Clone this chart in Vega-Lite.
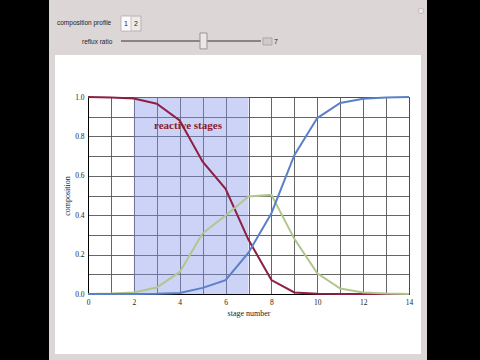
{
  "$schema": "https://vega.github.io/schema/vega-lite/v6.json",
  "width": 321,
  "height": 197,
  "autosize": {"type": "none"},
  "padding": {"left": 88, "top": 97, "right": 71, "bottom": 66},
  "background": "white",
  "config": {
    "view": {"stroke": "black", "strokeWidth": 1},
    "axis": {
      "labelFont": "Liberation Serif",
      "labelFontSize": 7.5,
      "labelColor": "#222",
      "titleFont": "Liberation Serif",
      "titleFontSize": 8,
      "titleFontWeight": "normal",
      "titleColor": "#222",
      "gridColor": "#555",
      "gridOpacity": 0.9,
      "gridWidth": 1,
      "domainColor": "black",
      "ticks": false,
      "labelPadding": 4,
      "labelOverlap": false,
      "labelFlush": false
    }
  },
  "datasets": {
    "profile": [
      {"stage": 0, "component": "A", "composition": 1.0},
      {"stage": 1, "component": "A", "composition": 0.998},
      {"stage": 2, "component": "A", "composition": 0.992},
      {"stage": 3, "component": "A", "composition": 0.966},
      {"stage": 4, "component": "A", "composition": 0.881},
      {"stage": 5, "component": "A", "composition": 0.672},
      {"stage": 6, "component": "A", "composition": 0.534},
      {"stage": 7, "component": "A", "composition": 0.275},
      {"stage": 8, "component": "A", "composition": 0.071},
      {"stage": 9, "component": "A", "composition": 0.008},
      {"stage": 10, "component": "A", "composition": 0.001},
      {"stage": 11, "component": "A", "composition": 0.0},
      {"stage": 12, "component": "A", "composition": 0.0},
      {"stage": 13, "component": "A", "composition": 0.0},
      {"stage": 14, "component": "A", "composition": 0.0},
      {"stage": 0, "component": "B", "composition": 0.0},
      {"stage": 1, "component": "B", "composition": 0.002},
      {"stage": 2, "component": "B", "composition": 0.008},
      {"stage": 3, "component": "B", "composition": 0.033},
      {"stage": 4, "component": "B", "composition": 0.112},
      {"stage": 5, "component": "B", "composition": 0.308},
      {"stage": 6, "component": "B", "composition": 0.398},
      {"stage": 7, "component": "B", "composition": 0.495},
      {"stage": 8, "component": "B", "composition": 0.503},
      {"stage": 9, "component": "B", "composition": 0.28},
      {"stage": 10, "component": "B", "composition": 0.105},
      {"stage": 11, "component": "B", "composition": 0.028},
      {"stage": 12, "component": "B", "composition": 0.008},
      {"stage": 13, "component": "B", "composition": 0.002},
      {"stage": 14, "component": "B", "composition": 0.0},
      {"stage": 0, "component": "C", "composition": 0.0},
      {"stage": 1, "component": "C", "composition": 0.0},
      {"stage": 2, "component": "C", "composition": 0.0},
      {"stage": 3, "component": "C", "composition": 0.001},
      {"stage": 4, "component": "C", "composition": 0.005},
      {"stage": 5, "component": "C", "composition": 0.031},
      {"stage": 6, "component": "C", "composition": 0.07},
      {"stage": 7, "component": "C", "composition": 0.21},
      {"stage": 8, "component": "C", "composition": 0.41},
      {"stage": 9, "component": "C", "composition": 0.705},
      {"stage": 10, "component": "C", "composition": 0.893},
      {"stage": 11, "component": "C", "composition": 0.97},
      {"stage": 12, "component": "C", "composition": 0.991},
      {"stage": 13, "component": "C", "composition": 0.998},
      {"stage": 14, "component": "C", "composition": 1.0}
    ],
    "region": [
      {"start": 2, "end": 7, "low": 0, "high": 1, "label": "reactive stages"}
    ]
  },
  "layer": [
    {
      "data": {"name": "region"},
      "mark": {"type": "rect", "fill": "#7f90ea", "opacity": 0.4},
      "encoding": {
        "x": {"field": "start", "type": "quantitative", "scale": {"domain": [0, 14], "nice": false, "zero": false},
          "axis": {"values": [0,1,2,3,4,5,6,7,8,9,10,11,12,13,14], "tickCount": 30, "labelExpr": "datum.value % 2 == 0 ? format(datum.value, 'd') : ''", "title": "stage number", "titlePadding": 4}},
        "x2": {"field": "end"},
        "y": {"field": "low", "type": "quantitative", "scale": {"domain": [0, 1], "nice": false, "zero": false},
          "axis": {"values": [0,0.1,0.2,0.3,0.4,0.5,0.6,0.7,0.8,0.9,1], "tickCount": 30, "labelExpr": "round(datum.value*10) % 2 == 0 ? format(datum.value, '.1f') : ''", "title": "composition", "titlePadding": 3}},
        "y2": {"field": "high"}
      }
    },
    {
      "data": {"name": "profile"},
      "mark": {"type": "line", "strokeWidth": 2},
      "encoding": {
        "x": {"field": "stage", "type": "quantitative",
          "axis": {"values": [0,1,2,3,4,5,6,7,8,9,10,11,12,13,14], "tickCount": 30, "labelExpr": "datum.value % 2 == 0 ? format(datum.value, 'd') : ''", "title": "stage number", "titlePadding": 4}},
        "y": {"field": "composition", "type": "quantitative",
          "axis": {"values": [0,0.1,0.2,0.3,0.4,0.5,0.6,0.7,0.8,0.9,1], "tickCount": 30, "labelExpr": "round(datum.value*10) % 2 == 0 ? format(datum.value, '.1f') : ''", "title": "composition", "titlePadding": 3}},
        "color": {"field": "component", "type": "nominal", "scale": {"domain": ["A", "B", "C"], "range": ["#8c1f42", "#afc78c", "#5b80c9"]}, "legend": null}
      }
    },
    {
      "data": {"name": "region"},
      "mark": {"type": "text", "font": "Liberation Serif", "fontWeight": "bold", "fontSize": 11, "color": "#8b1a30", "align": "center", "baseline": "middle"},
      "encoding": {
        "x": {"datum": 4.36},
        "y": {"datum": 0.853},
        "text": {"field": "label"}
      }
    },
    {
      "data": {"name": "region"},
      "mark": {"type": "rect", "fill": "black"},
      "encoding": {"x": {"datum": -4.5}, "x2": {"datum": -1.70}, "y": {"datum": -0.6}, "y2": {"datum": 1.7}}
    },
    {
      "data": {"name": "region"},
      "mark": {"type": "rect", "fill": "black"},
      "encoding": {"x": {"datum": 14.785}, "x2": {"datum": 18}, "y": {"datum": -0.6}, "y2": {"datum": 1.7}}
    },
    {
      "data": {"name": "region"},
      "mark": {"type": "rect", "fill": "#ddd6d6"},
      "encoding": {"x": {"datum": -1.70}, "x2": {"datum": 14.785}, "y": {"datum": 1.2132}, "y2": {"datum": 1.7}}
    },
    {
      "data": {"name": "region"},
      "mark": {"type": "rect", "fill": null, "stroke": "#ddd6d6", "strokeWidth": 6},
      "encoding": {"x": {"datum": -1.570}, "x2": {"datum": 14.654}, "y": {"datum": -0.3198}, "y2": {"datum": 1.3}}
    },
    {
      "data": {"name": "region"},
      "mark": {"type": "text", "text": "composition profile", "align": "left", "baseline": "middle", "font": "Liberation Sans", "fontSize": 6.5, "color": "#222"},
      "encoding": {"x": {"datum": -1.352}, "y": {"datum": 1.376}}
    },
    {
      "data": {"name": "region"},
      "mark": {"type": "rect", "fill": "#eeeaea", "stroke": "#b8b2b2", "strokeWidth": 1},
      "encoding": {"x": {"datum": 1.439}, "x2": {"datum": 2.311}, "y": {"datum": 1.335}, "y2": {"datum": 1.411}}
    },
    {
      "data": {"name": "region"},
      "mark": {"type": "rect", "fill": "#fbfafa", "stroke": "#c8c2c2", "strokeWidth": 1},
      "encoding": {"x": {"datum": 1.439}, "x2": {"datum": 1.875}, "y": {"datum": 1.335}, "y2": {"datum": 1.411}}
    },
    {
      "data": {"name": "region"},
      "mark": {"type": "text", "text": "1", "align": "center", "baseline": "middle", "font": "Liberation Sans", "fontSize": 7, "color": "#222"},
      "encoding": {"x": {"datum": 1.657}, "y": {"datum": 1.373}}
    },
    {
      "data": {"name": "region"},
      "mark": {"type": "text", "text": "2", "align": "center", "baseline": "middle", "font": "Liberation Sans", "fontSize": 7, "color": "#222"},
      "encoding": {"x": {"datum": 2.09}, "y": {"datum": 1.373}}
    },
    {
      "data": {"name": "region"},
      "mark": {"type": "text", "text": "reflux ratio", "align": "left", "baseline": "middle", "font": "Liberation Sans", "fontSize": 6.5, "color": "#222"},
      "encoding": {"x": {"datum": -0.262}, "y": {"datum": 1.279}}
    },
    {
      "data": {"name": "region"},
      "mark": {"type": "rule", "color": "#8a8484", "strokeWidth": 2},
      "encoding": {"x": {"datum": 1.439}, "x2": {"datum": 7.545}, "y": {"datum": 1.284}}
    },
    {
      "data": {"name": "region"},
      "mark": {"type": "rect", "fill": "#ebe7e7", "stroke": "#9a9494", "strokeWidth": 1},
      "encoding": {"x": {"datum": 4.884}, "x2": {"datum": 5.19}, "y": {"datum": 1.244}, "y2": {"datum": 1.325}}
    },
    {
      "data": {"name": "region"},
      "mark": {"type": "rect", "fill": "#cfc9c9", "stroke": "#b0aaaa", "strokeWidth": 1},
      "encoding": {"x": {"datum": 7.632}, "x2": {"datum": 8.024}, "y": {"datum": 1.264}, "y2": {"datum": 1.30}}
    },
    {
      "data": {"name": "region"},
      "mark": {"type": "text", "text": "7", "align": "left", "baseline": "middle", "font": "Liberation Sans", "fontSize": 7, "color": "#222"},
      "encoding": {"x": {"datum": 8.11}, "y": {"datum": 1.279}}
    },
    {
      "data": {"name": "region"},
      "mark": {"type": "point", "filled": true, "fill": "#f4f2f2", "stroke": "#b8b2b2", "strokeWidth": 1, "size": 30},
      "encoding": {"x": {"datum": 14.52}, "y": {"datum": 1.437}}
    }
  ]
}
